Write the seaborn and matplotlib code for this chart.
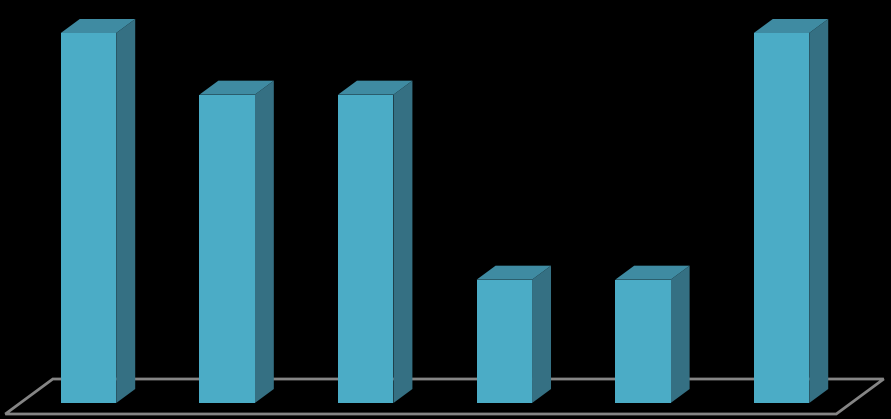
import numpy as np
import matplotlib
matplotlib.use('Agg')
import matplotlib.pyplot as plt
from matplotlib.patches import Polygon
import seaborn as sns

# Data (no labels are shown in the original chart)
categories = ['C1', 'C2', 'C3', 'C4', 'C5', 'C6']
values = [6, 5, 5, 2, 2, 6]

# Colours
front_color = '#4BACC6'
side_color = '#357083'
top_color = '#3F8BA2'
floor_color = '#858585'

# 3D look: depth offset of the bars, in data units
depth_x = 0.137
depth_y = 0.227

sns.set_theme(style='white')

fig = plt.figure(figsize=(8.91, 4.19), dpi=100, facecolor='black')
ax = fig.add_axes([0, 0, 1, 1])

sns.barplot(x=categories, y=values, color=front_color, saturation=1, width=0.4,
            linewidth=0, ax=ax, zorder=3)

ax.set_xlim(-0.6385, 5.79)
ax.set_ylim(-0.259, 6.535)
ax.axis('off')

# Floor of the 3D chart, behind the bars
floor_left = -0.6
floor_right = 5.395
floor_front = -0.178
floor_corners = [(floor_left, floor_front), (floor_right, floor_front),
                 (floor_right + 2.5 * depth_x, floor_front + 2.5 * depth_y),
                 (floor_left + 2.5 * depth_x, floor_front + 2.5 * depth_y)]
ax.add_patch(Polygon(floor_corners, closed=True, fill=False, edgecolor=floor_color,
                     linewidth=2, zorder=1))

# Side and top faces of each bar
for bar in ax.patches[:len(values)]:
    x0 = bar.get_x()
    x1 = x0 + bar.get_width()
    h = bar.get_height()
    side = [(x1, 0), (x1 + depth_x, depth_y), (x1 + depth_x, h + depth_y), (x1, h)]
    top = [(x0, h), (x1, h), (x1 + depth_x, h + depth_y), (x0 + depth_x, h + depth_y)]
    ax.add_patch(Polygon(side, closed=True, facecolor=side_color, edgecolor='none', zorder=2))
    ax.add_patch(Polygon(top, closed=True, facecolor=top_color, edgecolor='none', zorder=2))

fig.savefig('out.png', dpi=100, facecolor='black')
plt.close(fig)
